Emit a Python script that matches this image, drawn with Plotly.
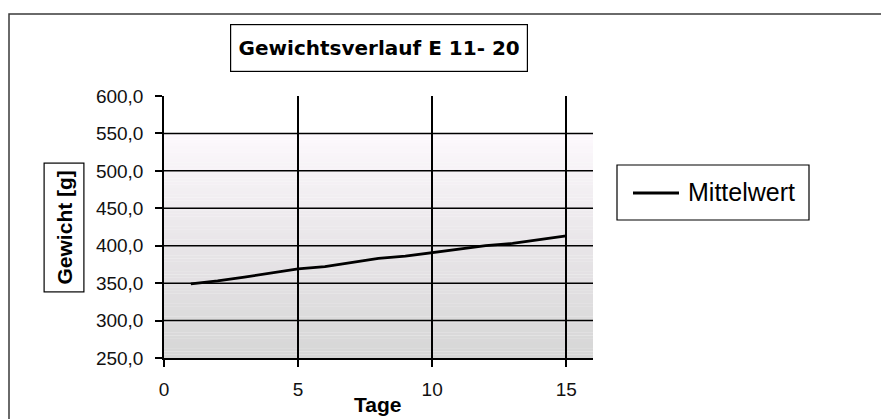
import plotly.graph_objects as go

# --- data -------------------------------------------------------------
days = list(range(1, 16))
mittelwert = [349, 353, 358, 364, 369, 372, 377, 383, 386, 391, 396, 400, 403, 408, 413]

series_name = "Mittelwert"
chart_title = "Gewichtsverlauf E 11- 20"
x_title = "Tage"
y_title = "Gewicht [g]"

x_ticks = [0, 5, 10, 15]
x_tick_labels = ["0", "5", "10", "15"]
y_ticks = [250, 300, 350, 400, 450, 500, 550, 600]
y_tick_labels = ["250,0", "300,0", "350,0", "400,0", "450,0", "500,0", "550,0", "600,0"]

# --- geometry (pixels) ------------------------------------------------
W, H = 881, 419
L, R, T, B = 164, 288, 96, 61
PW, PH = W - L - R, H - T - B


def px(x):
    """pixel column -> paper x"""
    return (x - L) / PW


def py(y):
    """pixel row (from top) -> paper y"""
    return (H - B - y) / PH


TICK_FONT = dict(family="Liberation Sans, Arial, sans-serif", size=19, color="#111111")

fig = go.Figure()
fig.add_trace(go.Scatter(
    x=days, y=mittelwert, mode="lines", name=series_name,
    line=dict(color="#000000", width=2.8), showlegend=False,
))

shapes = []

# vertical gradient in the plot area (light pinkish white at top -> grey at bottom)
top_c = (253, 249, 253)
mid_c = (232, 229, 232)
bot_c = (214, 214, 214)
grad_lo, grad_hi = y_ticks[0], y_ticks[-2]
n_bands = 70
for i in range(n_bands):
    t0 = i / n_bands
    t1 = (i + 1) / n_bands
    tm = (t0 + t1) / 2  # 0 = bottom, 1 = top
    if tm < 0.5:
        a, b_, f = bot_c, mid_c, tm / 0.5
    else:
        a, b_, f = mid_c, top_c, (tm - 0.5) / 0.5
    c = tuple(round(a[k] + (b_[k] - a[k]) * f) for k in range(3))
    shapes.append(dict(
        type="rect", xref="x", yref="y", layer="below",
        x0=0, x1=16,
        y0=grad_lo + (grad_hi - grad_lo) * t0,
        y1=grad_lo + (grad_hi - grad_lo) * t1 + 0.2,
        line=dict(width=0), fillcolor="rgb(%d,%d,%d)" % c,
    ))

# horizontal grid lines (none at the top value)
for v in y_ticks[1:-1]:
    shapes.append(dict(
        type="line", xref="x", yref="y", layer="between",
        x0=0, x1=16, y0=v, y1=v,
        line=dict(color="#000000", width=1.5),
    ))

# outer chart frame
shapes.append(dict(
    type="rect", xref="paper", yref="paper",
    x0=px(9), x1=px(900), y0=py(14), y1=py(440),
    line=dict(color="#3a3a3a", width=1.5), fillcolor="rgba(0,0,0,0)",
))

# legend box with line sample
shapes.append(dict(
    type="rect", xref="paper", yref="paper",
    x0=px(617), x1=px(809), y0=py(165), y1=py(220),
    line=dict(color="#000000", width=1.2), fillcolor="rgba(0,0,0,0)",
))
shapes.append(dict(
    type="line", xref="paper", yref="paper",
    x0=px(633), x1=px(679), y0=py(193), y1=py(193),
    line=dict(color="#000000", width=2.8),
))

annotations = [
    # chart title in a box
    dict(
        text="<b>%s</b>" % chart_title, xref="paper", yref="paper",
        x=px(379), y=py(48), xanchor="center", yanchor="middle", showarrow=False,
        font=dict(family="DejaVu Sans, sans-serif", size=20, color="#000000"),
        bordercolor="#000000", borderwidth=1.2, width=294, height=44,
        bgcolor="#ffffff",
    ),
    # y-axis title in a box
    dict(
        text="<b>%s</b>" % y_title, xref="paper", yref="paper",
        x=px(63.5), y=py(228), xanchor="center", yanchor="middle", showarrow=False,
        textangle=-90,
        font=dict(family="Liberation Sans, Arial, sans-serif", size=21, color="#000000"),
        bordercolor="#000000", borderwidth=1.2, width=126, height=37,
    ),
    # x-axis title
    dict(
        text="<b>%s</b>" % x_title, xref="paper", yref="paper",
        x=px(377.5), y=py(404), xanchor="center", yanchor="middle", showarrow=False,
        font=dict(family="Liberation Sans, Arial, sans-serif", size=21, color="#000000"),
    ),
    # legend label
    dict(
        text=series_name, xref="paper", yref="paper",
        x=px(686), y=py(192), xanchor="left", yanchor="middle", showarrow=False,
        font=dict(family="Liberation Sans, Arial, sans-serif", size=25, color="#000000"),
    ),
]

fig.update_layout(
    width=W, height=H,
    margin=dict(l=L, r=R, t=T, b=B, pad=0),
    paper_bgcolor="#ffffff", plot_bgcolor="#ffffff",
    shapes=shapes, annotations=annotations,
    showlegend=False,
)

fig.update_xaxes(
    range=[0, 16], tickmode="array", tickvals=x_ticks, ticktext=x_tick_labels,
    showgrid=True, gridcolor="#000000", gridwidth=1.5, zeroline=False,
    showline=True, linecolor="#000000", linewidth=1.5,
    ticks="outside", ticklen=7, tickwidth=1.5, tickcolor="#000000",
    tickfont=TICK_FONT, ticklabelstandoff=6,
)
fig.update_yaxes(
    range=[250, 600], tickmode="array", tickvals=y_ticks, ticktext=y_tick_labels,
    showgrid=False, zeroline=False,
    showline=True, linecolor="#000000", linewidth=1.5,
    ticks="outside", ticklen=7, tickwidth=1.5, tickcolor="#000000",
    tickfont=TICK_FONT, ticklabelstandoff=8,
)

fig.write_html("out.html")
